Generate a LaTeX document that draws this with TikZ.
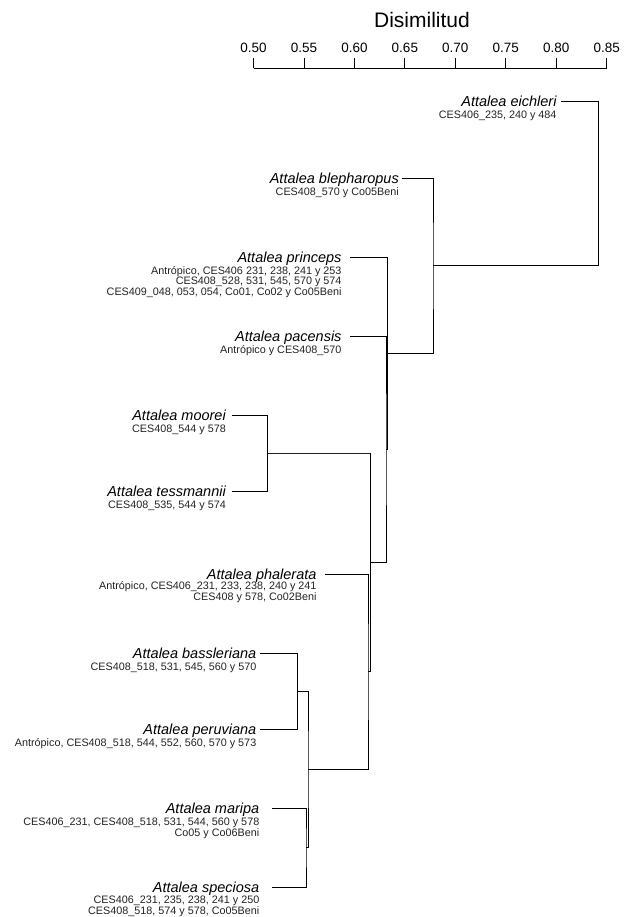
\documentclass[tikz,border=0pt]{standalone}
\usepackage{fontspec}
\setmainfont{Liberation Sans}
\definecolor{lnred}{HTML}{5C0A0A}
\definecolor{subtxt}{HTML}{222222}
\tikzset{
  nm/.style={anchor=base east, inner sep=0pt, font=\fontsize{14.5}{16}\selectfont\itshape},
  sb/.style={anchor=base east, inner sep=0pt, text=subtxt, font=\fontsize{10.8}{12}\selectfont},
  br/.style={line width=0.9pt, black},
  ticklab/.style={inner sep=0pt, font=\fontsize{13.5}{15}\selectfont},
}
\newcommand\leafnm[5]{%
  \node[nm] (#1) at (#2,#3+5) {Attalea #4};
  \coordinate (#1L) at (#5,#3);
}
\begin{document}
\begin{tikzpicture}[x=1pt,y=-1pt]
\useasboundingbox (0,0) rectangle (624,917);
% title and axis
\node[inner sep=0pt, font=\fontsize{21}{24}\selectfont] (title) at (422,20) {Disimilitud};
\coordinate (ax0) at (253.5,68);
\coordinate (ax1) at (606.7,68);
\draw[br] (ax0) -- (ax1);
\foreach \i/\l in {0/0.50,1/0.55,2/0.60,3/0.65,4/0.70,5/0.75,6/0.80,7/0.85}{
  \draw[br] (253.5+\i*50.457,58) -- (253.5+\i*50.457,68.4);
  \node[ticklab] (t\i) at (253.5+\i*50.457,48) {\l};
}
% leaves
\leafnm{eich}{556.7}{101.7}{eichleri}{561}
\node[sb] (eich1) at (556.7,118.7) {CES406\_235, 240 y 484};
\leafnm{bleph}{399}{178.3}{blepharopus}{401.5}
\node[sb] (bleph1) at (399,195.3) {CES408\_570 y Co05Beni};
\leafnm{princ}{341.7}{257.5}{princeps}{350}
\node[sb] (princ1) at (341.7,274.5) {Antrópico, CES406 231, 238, 241 y 253};
\node[sb] (princ2) at (341.7,284.8) {CES408\_528, 531, 545, 570 y 574};
\node[sb] (princ3) at (341.7,295.1) {CES409\_048, 053, 054, Co01, Co02 y Co05Beni};
\leafnm{pac}{341.7}{336.7}{pacensis}{350}
\node[sb] (pac1) at (341.7,353.7) {Antrópico y CES408\_570};
\leafnm{moor}{226}{415}{moorei}{231.7}
\node[sb] (moor1) at (226,432) {CES408\_544 y 578};
\leafnm{tess}{226}{491.7}{tessmannii}{231.7}
\node[sb] (tess1) at (226,508.7) {CES408\_535, 544 y 574};
\leafnm{phal}{316.7}{574}{phalerata}{325}
\node[sb] (phal1) at (316.7,589.5) {Antrópico, CES406\_231, 233, 238, 240 y 241};
\node[sb] (phal2) at (316.7,600.5) {CES408 y 578, Co02Beni};
\leafnm{bass}{256.5}{653.3}{bassleriana}{260}
\node[sb] (bass1) at (256.5,670.3) {CES408\_518, 531, 545, 560 y 570};
\leafnm{peru}{256.5}{729.3}{peruviana}{260}
\node[sb] (peru1) at (256.5,746.3) {Antrópico, CES408\_518, 544, 552, 560, 570 y 573};
\leafnm{mari}{259.5}{808.5}{maripa}{271.7}
\node[sb] (mari1) at (259.5,825.5) {CES406\_231, CES408\_518, 531, 544, 560 y 578};
\node[sb] (mari2) at (259.5,836.5) {Co05 y Co06Beni};
\leafnm{spec}{259.5}{887.3}{speciosa}{271.7}
\node[sb] (spec1) at (259.5,903.5) {CES406\_231, 235, 238, 241 y 250};
\node[sb] (spec2) at (259.5,914.5) {CES408\_518, 574 y 578, Co05Beni};
% internal junctions
\coordinate (jMS) at (306,847.9);
\coordinate (jBP) at (297.7,691.3);
\coordinate (jF)  at (308,769.6);
\coordinate (jE)  at (368,671.8);
\coordinate (jMT) at (267.5,453.4);
\coordinate (jD)  at (370,562.6);
\coordinate (jC)  at (386,449.6);
\coordinate (jB)  at (387.5,353.5);
\coordinate (jA)  at (433,265.9);
\coordinate (jR)  at (598,183.8);
% branches
\draw[br] (mariL) -| (jMS) |- (specL);
\draw[br] (bassL) -| (jBP) |- (peruL);
\draw[br] (jBP) -| (jF) |- (jMS);
\draw[br] (phalL) -| (jE) |- (jF);
\draw[br] (moorL) -| (jMT) |- (tessL);
\draw[br, lnred] (jMT) -- (jMT -| jD);
\draw[br] (jMT -| jD) |- (jE);
\draw[br] (jD) -- (jD -| jC);
\draw[br] (pacL) -| (jC) |- (jD);
\draw[br] (princL) -| (jB) |- (jC);
\draw[br] (blephL) -| (jA) |- (jB);
\draw[br] (eichL) -| (jR) |- (jA);
\end{tikzpicture}
\end{document}
